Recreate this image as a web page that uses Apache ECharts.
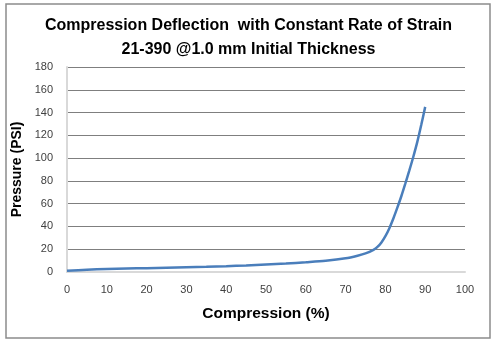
<!DOCTYPE html>
<html><head><meta charset="utf-8">
<script src="https://cdn.jsdelivr.net/npm/echarts@6/dist/echarts.min.js"></script>
<style>html,body{margin:0;padding:0;background:#fff}#c{width:497px;height:347px}</style>
</head><body><div id="c"></div>
<script>
const compression = [0,5,10,15,20,25,30,35,40,45,50,55,60,65,70,73,75,77,78,79,80,81,82,83,84,85,86,87,88,89,90];
const pressure = [1,2,2.7,3.1,3.4,3.8,4.2,4.6,5.1,5.8,6.6,7.4,8.5,9.8,12,14.3,16.3,19.5,22,26,31.5,38.5,47,56.5,66.5,77.5,89,101,114,129,145];
const titleLines = ['Compression Deflection  with Constant Rate of Strain', '21-390 @1.0 mm Initial Thickness'];
const xName = 'Compression (%)';
const yName = 'Pressure (PSI)';

const chart = echarts.init(document.getElementById('c'));
const font = 'Liberation Sans, Arial, sans-serif';
chart.setOption({
  animation: false,
  graphic: [{type:'rect', shape:{x:6,y:4,width:484,height:334}, style:{fill:null, stroke:'#8c8c8c', lineWidth:1.5}}],
  title: {text: titleLines.join('\n'), left: 'center', top: 9,
    textStyle: {fontFamily: font, fontWeight: 'bold', fontSize: 16, lineHeight: 24, color: '#000'}},
  grid: {left: 67, right: 32, top: 67, bottom: 75},
  xAxis: {type: 'value', min: 0, max: 100, interval: 10,
    name: xName, nameLocation: 'middle', nameGap: 34,
    nameTextStyle: {fontFamily: font, fontWeight: 'bold', fontSize: 15.5, color: '#000'},
    axisLine: {show: true, lineStyle: {color: '#d9d9d9', width: 2}},
    axisTick: {show: false},
    axisLabel: {fontFamily: font, fontSize: 11, color: '#404040', margin: 12},
    splitLine: {show: false}},
  yAxis: {type: 'value', min: 0, max: 180, interval: 20,
    name: yName, nameLocation: 'middle', nameGap: 42,
    nameTextStyle: {fontFamily: font, fontWeight: 'bold', fontSize: 14, color: '#000'},
    axisLine: {show: true, lineStyle: {color: '#d9d9d9', width: 2}},
    axisTick: {show: false},
    axisLabel: {fontFamily: font, fontSize: 11, color: '#404040', margin: 14},
    splitLine: {show: true, lineStyle: {color: '#7f7f7f', width: 1}}},
  series: [{type: 'line', data: compression.map((x,i)=>[x, pressure[i]]),
    smooth: 0.3, showSymbol: false, lineStyle: {color: '#4a7ebb', width: 2.5}}]
});
</script></body></html>
